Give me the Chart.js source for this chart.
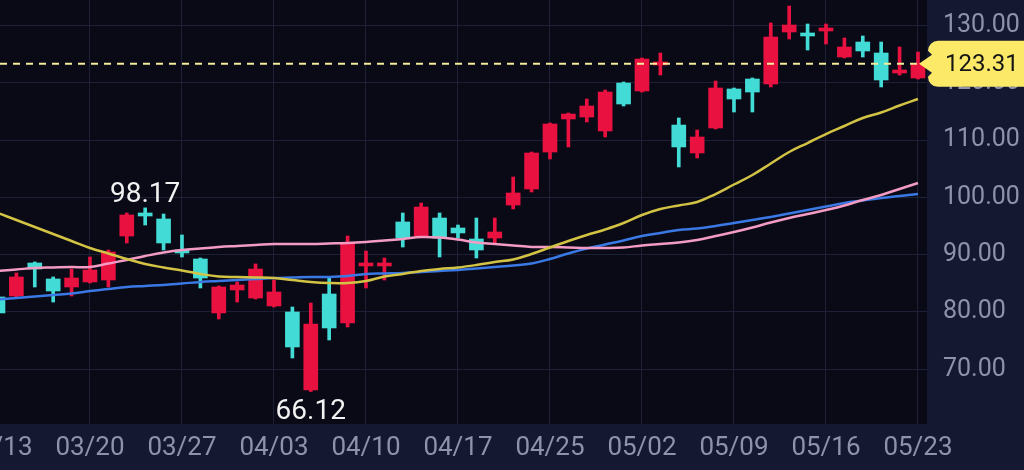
<!DOCTYPE html>
<html>
<head>
<meta charset="utf-8">
<script src="https://cdn.jsdelivr.net/npm/chart.js@4.4.1/dist/chart.umd.min.js"></script>
<style>
  html, body { margin: 0; padding: 0; background: #141830; }
  #kline { display: block; }
</style>
</head>
<body>
<canvas id="kline" width="1024" height="470"></canvas>
<script>
// one label every 5 sessions
const dateLabels = ["03/13", "03/20", "03/27", "04/03", "04/10", "04/17", "04/25", "05/02", "05/09", "05/16", "05/23"];

const opens = [82.62, 82.79, 88.55, 85.76, 84.36, 85.24, 85.58, 93.26, 97.28, 96.23,
  90.64, 89.25, 79.83, 83.84, 82.44, 81.05, 80.00, 66.40, 83.14, 78.08,
  88.03, 88.03, 95.71, 93.26, 96.40, 94.66, 92.74, 92.91, 98.67, 101.47,
  107.92, 113.68, 114.03, 111.59, 119.96, 118.57, 123.11, 112.63, 107.75, 112.11,
  118.92, 120.66, 119.79, 128.87, 128.69, 129.04, 124.50, 127.12, 125.20, 121.71,
  120.84];
const highs = [83.14, 86.81, 88.73, 86.11, 87.50, 89.60, 90.82, 97.28, 98.17, 97.10,
  93.44, 89.42, 84.54, 85.24, 88.38, 85.58, 80.87, 81.57, 85.93, 93.26,
  90.64, 89.42, 97.28, 99.02, 97.28, 95.18, 96.40, 96.40, 103.56, 107.92,
  112.98, 114.73, 117.17, 118.74, 120.14, 124.33, 125.20, 113.86, 111.76, 120.31,
  119.09, 120.84, 130.44, 133.40, 130.26, 130.26, 127.82, 128.17, 127.12, 126.25,
  125.37];
const lows = [79.30, 82.44, 84.36, 81.74, 82.79, 85.06, 84.36, 92.04, 95.18, 90.82,
  89.60, 84.19, 78.78, 81.74, 82.27, 80.87, 71.97, 66.12, 75.11, 77.38,
  84.19, 85.58, 91.34, 93.09, 89.60, 92.91, 89.42, 92.04, 97.98, 100.94,
  106.70, 108.80, 113.16, 110.54, 115.95, 118.39, 121.36, 105.31, 106.88, 111.94,
  114.90, 114.90, 119.27, 127.64, 125.72, 126.77, 124.33, 124.50, 119.27, 121.36,
  120.66];
const closes = [79.83, 86.11, 87.50, 83.66, 85.93, 87.33, 90.47, 96.93, 96.75, 92.04,
  90.30, 85.93, 84.36, 84.71, 87.50, 83.49, 73.89, 77.91, 77.21, 92.04,
  88.38, 88.55, 92.91, 98.32, 92.91, 93.79, 90.82, 93.96, 100.77, 107.75,
  112.81, 114.55, 115.95, 118.39, 116.30, 124.15, 123.63, 108.80, 110.54, 119.09,
  117.17, 118.39, 127.99, 130.09, 128.17, 129.56, 126.25, 125.55, 120.49, 122.23,
  123.31];

const maYellow = [97.28, 96.06, 94.83, 93.61, 92.39, 91.17, 90.21, 89.25, 88.38, 87.77,
  87.24, 86.63, 86.20, 86.11, 86.02, 85.93, 85.58, 85.24, 85.06, 85.06,
  85.41, 86.20, 86.63, 87.16, 87.50, 87.77, 88.20, 88.73, 89.16, 90.12,
  91.26, 92.39, 93.44, 94.40, 95.53, 96.93, 97.98, 98.59, 99.20, 100.59,
  102.25, 103.91, 105.92, 107.92, 109.49, 111.06, 112.46, 113.86, 114.82, 116.04,
  117.17];
const maPink = [87.16, 87.42, 87.68, 87.77, 87.85, 87.85, 88.46, 89.08, 89.77, 90.38,
  90.82, 91.08, 91.34, 91.52, 91.69, 91.87, 91.87, 91.87, 91.95, 92.04,
  92.22, 92.48, 92.74, 93.09, 93.00, 92.65, 92.13, 91.87, 91.61, 91.34,
  91.34, 91.26, 91.17, 91.17, 91.26, 91.61, 91.87, 92.13, 92.57, 93.26,
  93.96, 94.75, 95.62, 96.41, 97.10, 97.80, 98.59, 99.55, 100.42, 101.47,
  102.51];
const maBlue = [82.18, 82.44, 82.71, 82.97, 83.23, 83.66, 84.01, 84.36, 84.54, 84.71,
  84.97, 85.24, 85.41, 85.58, 85.76, 85.93, 86.02, 86.11, 86.11, 86.28,
  86.63, 86.72, 86.81, 86.98, 87.16, 87.33, 87.59, 87.85, 88.12, 88.46,
  89.25, 90.21, 91.08, 91.78, 92.48, 93.26, 93.79, 94.31, 94.57, 95.01,
  95.53, 96.06, 96.58, 97.19, 97.80, 98.41, 99.02, 99.46, 99.90, 100.24,
  100.59];

const yTicks = [70, 80, 90, 100, 110, 120, 130];

// sessions whose high / low carry a price tag
const tagHighAt = 8;
const tagLowAt = 17;

/* =========================
   COLOURS
========================= */
const UP = "#e8113f";
const DOWN = "#43dbd5";
const PLOT_BG = "#0a0a17";
const PANEL_BG = "#141830";
const GRID = "#1d2036";
const AXIS_TEXT = "#8e92ab";

const candleColors = opens.map((o, i) => (closes[i] >= o ? UP : DOWN));
const lastClose = closes[closes.length - 1];

/* =========================
   PLUGINS
========================= */
const backdrop = {
    id: "backdrop",
    beforeDraw(chart) {
        const { ctx, chartArea: a } = chart;
        ctx.save();
        ctx.fillStyle = PANEL_BG;
        ctx.fillRect(0, 0, chart.width, chart.height);
        ctx.fillStyle = PLOT_BG;
        ctx.fillRect(a.left, a.top, a.right - a.left, a.bottom - a.top);
        ctx.restore();
    }
};

const marks = {
    id: "marks",
    afterDatasetsDraw(chart) {
        const { ctx, chartArea: a, scales: { x, y } } = chart;
        ctx.save();

        // last price dashed line
        const py = y.getPixelForValue(lastClose);
        ctx.strokeStyle = "#f4ec9c";
        ctx.lineWidth = 2;
        ctx.setLineDash([7, 6]);
        ctx.beginPath();
        ctx.moveTo(a.left, py);
        ctx.lineTo(a.right - 8, py);
        ctx.stroke();
        ctx.setLineDash([]);

        ctx.fillStyle = "#f2f2f2";
        ctx.font = "28px Roboto";
        ctx.textAlign = "center";
        ctx.textBaseline = "alphabetic";
        ctx.fillText(highs[tagHighAt].toFixed(2), x.getPixelForValue(tagHighAt), y.getPixelForValue(highs[tagHighAt]) - 6);
        ctx.textBaseline = "top";
        ctx.fillText(lows[tagLowAt].toFixed(2), x.getPixelForValue(tagLowAt), y.getPixelForValue(lows[tagLowAt]) + 6);
        ctx.restore();
    },
    afterDraw(chart) {
        const { ctx, chartArea: a, scales: { y } } = chart;
        const py = y.getPixelForValue(lastClose);
        const left = a.right + 1, h = 46, r = 10;
        ctx.save();
        ctx.fillStyle = "#fde968";
        ctx.beginPath();
        ctx.moveTo(a.right - 8, py);
        ctx.lineTo(left + 4, py - 9);
        ctx.lineTo(left, py - h / 2 + r);
        ctx.arcTo(left, py - h / 2, left + r, py - h / 2, r);
        ctx.lineTo(chart.width + 20, py - h / 2);
        ctx.lineTo(chart.width + 20, py + h / 2);
        ctx.lineTo(left + r, py + h / 2);
        ctx.arcTo(left, py + h / 2, left, py + h / 2 - r, r);
        ctx.lineTo(left + 4, py + 9);
        ctx.closePath();
        ctx.fill();

        ctx.fillStyle = "#151515";
        ctx.font = "24px Roboto";
        ctx.textAlign = "left";
        ctx.textBaseline = "middle";
        ctx.fillText(lastClose.toFixed(2), left + 17, py + 1);
        ctx.restore();
    }
};

/* =========================
   CHART
========================= */
const pts = arr => arr.map((v, i) => ({ x: i, y: v }));

new Chart(document.getElementById("kline"), {
    type: "bar",
    data: {
        datasets: [
            { type: "line", data: pts(maYellow), borderColor: "#d3c344", borderWidth: 2.5, pointRadius: 0, tension: 0.4, order: 0 },
            { type: "line", data: pts(maPink), borderColor: "#f39bc3", borderWidth: 2.5, pointRadius: 0, tension: 0.4, order: 0 },
            { type: "line", data: pts(maBlue), borderColor: "#3a78e4", borderWidth: 2.5, pointRadius: 0, tension: 0.4, order: 0 },
            {
                data: lows.map((l, i) => ({ x: i, y: [l, highs[i]] })),
                backgroundColor: candleColors, barThickness: 3, grouped: false, order: 2
            },
            {
                data: opens.map((o, i) => ({ x: i, y: [o, closes[i]] })),
                backgroundColor: candleColors, barThickness: 14, minBarLength: 3, grouped: false, order: 1
            }
        ]
    },
    options: {
        responsive: false,
        animation: false,
        devicePixelRatio: 1,
        layout: { padding: 0 },
        plugins: { legend: { display: false }, tooltip: { enabled: false } },
        scales: {
            x: {
                type: "linear",
                offset: false,
                min: 0.11,
                max: 50.49,
                afterBuildTicks: s => { s.ticks = dateLabels.map((_, k) => ({ value: k * 5 })); },
                afterFit: s => { s.height = 46; s.paddingLeft = 0; s.paddingRight = 0; },
                ticks: {
                    callback: v => dateLabels[Math.round(v / 5)],
                    autoSkip: false, maxRotation: 0, color: AXIS_TEXT, padding: 9,
                    font: { family: "Roboto", size: 26 }
                },
                grid: { color: GRID, drawTicks: false, offset: false },
                border: { display: false }
            },
            y: {
                position: "right",
                min: 60.45,
                max: 134.45,
                afterBuildTicks: s => { s.ticks = yTicks.map(v => ({ value: v })); },
                afterFit: s => { s.width = 97; s.paddingTop = 0; s.paddingBottom = 0; },
                ticks: {
                    callback: v => v.toFixed(2),
                    color: AXIS_TEXT, padding: 16,
                    font: { family: "Roboto", size: 25 }
                },
                grid: { color: GRID, drawTicks: false },
                border: { display: false }
            }
        }
    },
    plugins: [backdrop, marks]
});
</script>
</body>
</html>
